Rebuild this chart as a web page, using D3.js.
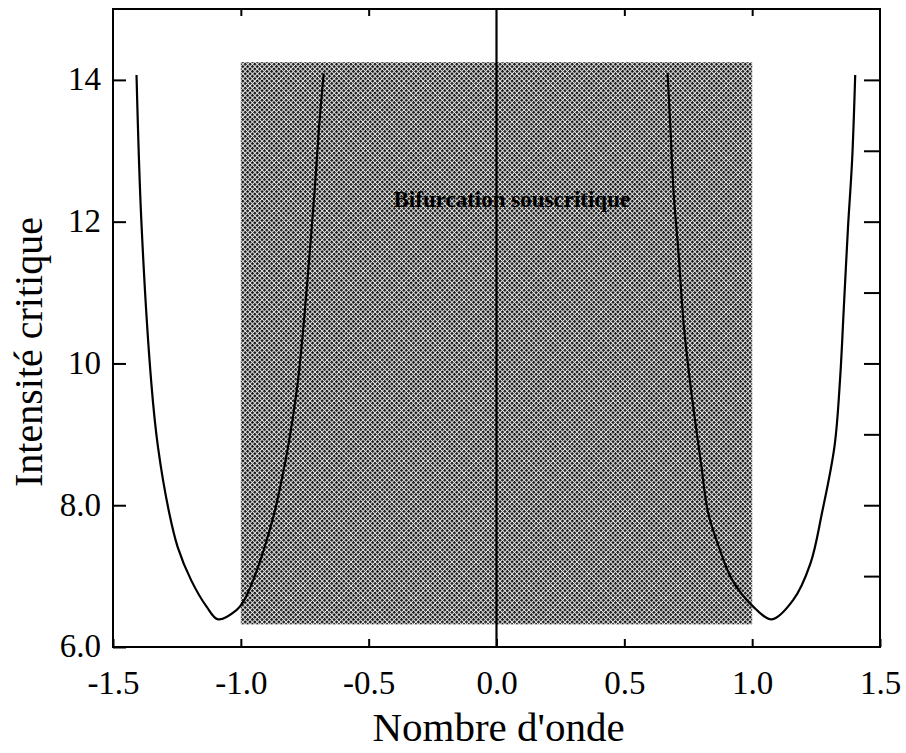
<!DOCTYPE html>
<html>
<head>
<meta charset="utf-8">
<script src="https://cdn.jsdelivr.net/npm/d3@7"></script>
<style>
  html, body { margin: 0; padding: 0; background: #fff; }
  svg { display: block; }
  text { font-family: "Liberation Serif", "Times New Roman", serif; fill: #000; }
</style>
</head>
<body>
<svg id="chart" width="906" height="753"></svg>
<script>
// Critical intensity versus wave number (two marginal-stability curves)
const leftK = [-1.408, -1.389, -1.350, -1.324, -1.280, -1.247, -1.194, -1.134, -1.089,
               -1.017, -0.990, -0.952, -0.907, -0.869, -0.840, -0.815, -0.794, -0.776,
               -0.755, -0.733, -0.712, -0.694, -0.676];
const leftI = [14.07, 12.00, 9.72, 8.82, 7.89, 7.41, 6.94, 6.57, 6.39,
               6.52, 6.64, 6.94, 7.41, 7.89, 8.36, 8.83, 9.30, 9.77,
               10.52, 11.46, 12.40, 13.34, 14.09];

const rightK = [0.669, 0.680, 0.693, 0.711, 0.733, 0.756, 0.778, 0.800, 0.828, 0.870, 0.923,
                1.004, 1.077, 1.160, 1.228, 1.273, 1.322, 1.344, 1.358, 1.375, 1.391, 1.403];
const rightI = [14.10, 13.34, 12.40, 11.60, 10.52, 9.77, 9.16, 8.59, 7.89, 7.41, 6.94,
                6.57, 6.39, 6.66, 7.18, 7.89, 8.83, 9.79, 10.75, 11.93, 12.87, 14.07];

// Subcritical region (shaded band)
const zoneK = [-1.0, 1.0];
const zoneI = [6.32, 14.25];
const zoneLabel = "Bifurcation souscritique";

// Axes
const xDomain = [-1.5, 1.5];
const yDomain = [6, 15];
const xTickValues = [-1.5, -1.0, -0.5, 0.0, 0.5, 1.0, 1.5];
const xTopTicks = [-1.0, -0.5, 0.5, 1.0];
const yTickValues = [6, 8, 10, 12, 14];
const yTickLabels = ["6.0", "8.0", "10", "12", "14"];
const yRightTicks = [7, 8, 9, 10, 11, 12, 13, 14];
const xTitle = "Nombre d'onde";
const yTitle = "Intensité critique";

const svg = d3.select("#chart");
const margin = { left: 113, right: 26, top: 9, bottom: 106 };
const W = 906, H = 753;

const x = d3.scaleLinear().domain(xDomain).range([margin.left, W - margin.right]);
const y = d3.scaleLinear().domain(yDomain).range([H - margin.bottom, margin.top]);

// halftone screen for the shaded band
const defs = svg.append("defs");
const pat = defs.append("pattern")
  .attr("id", "halftone")
  .attr("width", 3.4).attr("height", 3.4)
  .attr("patternUnits", "userSpaceOnUse")
  .attr("patternTransform", "rotate(45)");
pat.append("rect").attr("width", 3.4).attr("height", 3.4).attr("fill", "#e6e6e6");
pat.append("rect").attr("width", 2.4).attr("height", 2.4).attr("fill", "#161616");

svg.append("rect")
  .attr("x", x(zoneK[0]))
  .attr("y", y(zoneI[1]))
  .attr("width", x(zoneK[1]) - x(zoneK[0]))
  .attr("height", y(zoneI[0]) - y(zoneI[1]))
  .attr("fill", "url(#halftone)");

svg.append("text")
  .attr("x", x(0.06))
  .attr("y", y(12.2))
  .attr("text-anchor", "middle")
  .attr("font-size", 23)
  .attr("font-weight", "bold")
  .text(zoneLabel);

// vertical line at k = 0
svg.append("line")
  .attr("x1", x(0)).attr("x2", x(0))
  .attr("y1", y(yDomain[0])).attr("y2", y(yDomain[1]))
  .attr("stroke", "#000").attr("stroke-width", 2.2);

// curves
const line = d3.line()
  .x(d => x(d[0]))
  .y(d => y(d[1]))
  .curve(d3.curveCatmullRom.alpha(0.5));

[[leftK, leftI], [rightK, rightI]].forEach(([ks, is]) => {
  svg.append("path")
    .datum(ks.map((k, i) => [k, is[i]]))
    .attr("d", line)
    .attr("fill", "none")
    .attr("stroke", "#000")
    .attr("stroke-width", 2.2);
});

// axes
const fmtX = d => d3.format(".1f")(d).replace("\u2212", "-");

const axBottom = svg.append("g")
  .attr("transform", `translate(0,${y(yDomain[0])})`)
  .call(d3.axisBottom(x).tickValues(xTickValues).tickFormat(fmtX)
    .tickSizeInner(-8).tickSizeOuter(0).tickPadding(24));

const axTop = svg.append("g")
  .attr("transform", `translate(0,${y(yDomain[1])})`)
  .call(d3.axisTop(x).tickValues(xTopTicks).tickFormat("")
    .tickSizeInner(-7).tickSizeOuter(0));

const axLeft = svg.append("g")
  .attr("transform", `translate(${x(xDomain[0])},0)`)
  .call(d3.axisLeft(y).tickValues(yTickValues).tickFormat((d, i) => yTickLabels[i])
    .tickSizeInner(-13).tickSizeOuter(0).tickPadding(12));

const axRight = svg.append("g")
  .attr("transform", `translate(${x(xDomain[1])},0)`)
  .call(d3.axisRight(y).tickValues(yRightTicks).tickFormat("")
    .tickSizeInner(-16).tickSizeOuter(0));

[axBottom, axTop, axLeft, axRight].forEach(g => {
  g.select(".domain").remove();
  g.selectAll(".tick line").attr("stroke", "#000").attr("stroke-width", 2);
  g.selectAll("text")
    .attr("font-family", "Liberation Serif, serif")
    .attr("font-size", 33)
    .attr("fill", "#000");
});
axLeft.selectAll(".tick text").attr("dy", "0.3em");

// frame
svg.append("rect")
  .attr("x", x(xDomain[0]))
  .attr("y", y(yDomain[1]))
  .attr("width", x(xDomain[1]) - x(xDomain[0]))
  .attr("height", y(yDomain[0]) - y(yDomain[1]))
  .attr("fill", "none")
  .attr("stroke", "#000")
  .attr("stroke-width", 2);

// titles
svg.append("text")
  .attr("x", (x(xDomain[0]) + x(xDomain[1])) / 2 + 2)
  .attr("y", 741)
  .attr("text-anchor", "middle")
  .attr("font-size", 41)
  .text(xTitle);

svg.append("text")
  .attr("transform", `translate(42,${352}) rotate(-90)`)
  .attr("text-anchor", "middle")
  .attr("font-size", 40)
  .text(yTitle);
</script>
</body>
</html>
